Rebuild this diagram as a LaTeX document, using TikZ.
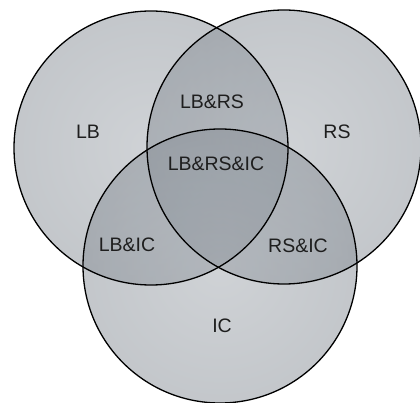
\documentclass[tikz,border=0pt]{standalone}
\usepackage{fontspec}
\setmainfont{Liberation Sans}
\usepackage{tikz}
\usepackage{xcolor}

% Shading for the set discs (lighter towards the middle)
\definecolor{setinner}{RGB}{160,166,173}
\definecolor{setouter}{RGB}{112,120,129}
\pgfdeclareradialshading{setdisc}{\pgfpoint{0bp}{0bp}}{%
  color(0bp)=(setinner); color(50bp)=(setouter); color(100bp)=(setouter)}

\begin{document}
\begin{tikzpicture}[x=1pt, y=-1pt]
    % Define colors
    \definecolor{labelgrey}{RGB}{30,30,30}

    % Page frame
    \useasboundingbox (0,0) rectangle (420,403);

    % Centres of the three sets
    \coordinate (cLB) at (151,148);
    \coordinate (cRS) at (284,147);
    \coordinate (cIC) at (220,266);

    % Shaded discs, see-through so the overlaps get darker
    \foreach \c in {cLB, cRS, cIC} {
        \shade[shading=setdisc, fill opacity=0.5] (\c) circle (137);
    }

    % Outlines
    \foreach \c in {cLB, cRS, cIC} {
        \draw[line width=1.3pt, black] (\c) circle (137);
    }

    % Region labels
    \begin{scope}[every node/.style={text=labelgrey, font=\fontsize{19.5}{23}\selectfont}]
        \node (lb)     at (88,132)  {LB};
        \node (rs)     at (337,132) {RS};
        \node (lbrs)   at (212,102) {LB\&RS};
        \node (lbrsic) at (216,164) {LB\&RS\&IC};
        \node (lbic)   at (127,245) {LB\&IC};
        \node (rsic)   at (298,246) {RS\&IC};
        \node (ic)     at (222,326) {IC};
    \end{scope}
\end{tikzpicture}
\end{document}
